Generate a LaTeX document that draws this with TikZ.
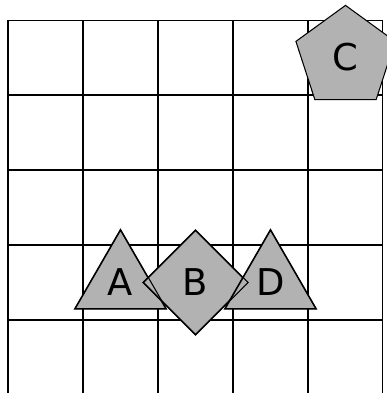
\documentclass[tikz,border=0pt]{standalone}
\usepackage{fontspec}
\setmainfont{DejaVu Sans}
\usetikzlibrary{shapes.geometric}
\tikzset{
  gridline/.style={line width=0.4pt, black},
  piece/.style={fill=black!30, draw=black, line width=0.4pt, inner sep=0pt,
    font=\fontsize{14}{16}\selectfont},
  tri/.style={piece, regular polygon, regular polygon sides=3, minimum size=1.39cm},
  pent/.style={piece, regular polygon, regular polygon sides=5, minimum size=1.39cm},
  dia/.style={piece, diamond, aspect=1, minimum size=1.39cm},
  outline/.style={draw=black, line width=0.4pt}
}
\begin{document}
\begin{tikzpicture}
\useasboundingbox (-0.10667,0.02667) rectangle (5.05333,5.26667);
\draw[gridline] (0,0) grid (5,5);
\node[tri] (A) at (1.5,1.5) {A};
\node[dia] (B) at (2.5,1.5) {B};
\node[tri] (D) at (3.5,1.5) {D};
\node[pent] (C) at (4.5,4.5) {C};
\draw[outline] (A.corner 1) -- (A.corner 2) -- (A.corner 3) -- cycle;
\draw[outline] (B.north) -- (B.west) -- (B.south) -- (B.east) -- cycle;
\draw[outline] (D.corner 1) -- (D.corner 2) -- (D.corner 3) -- cycle;
\end{tikzpicture}
\end{document}
